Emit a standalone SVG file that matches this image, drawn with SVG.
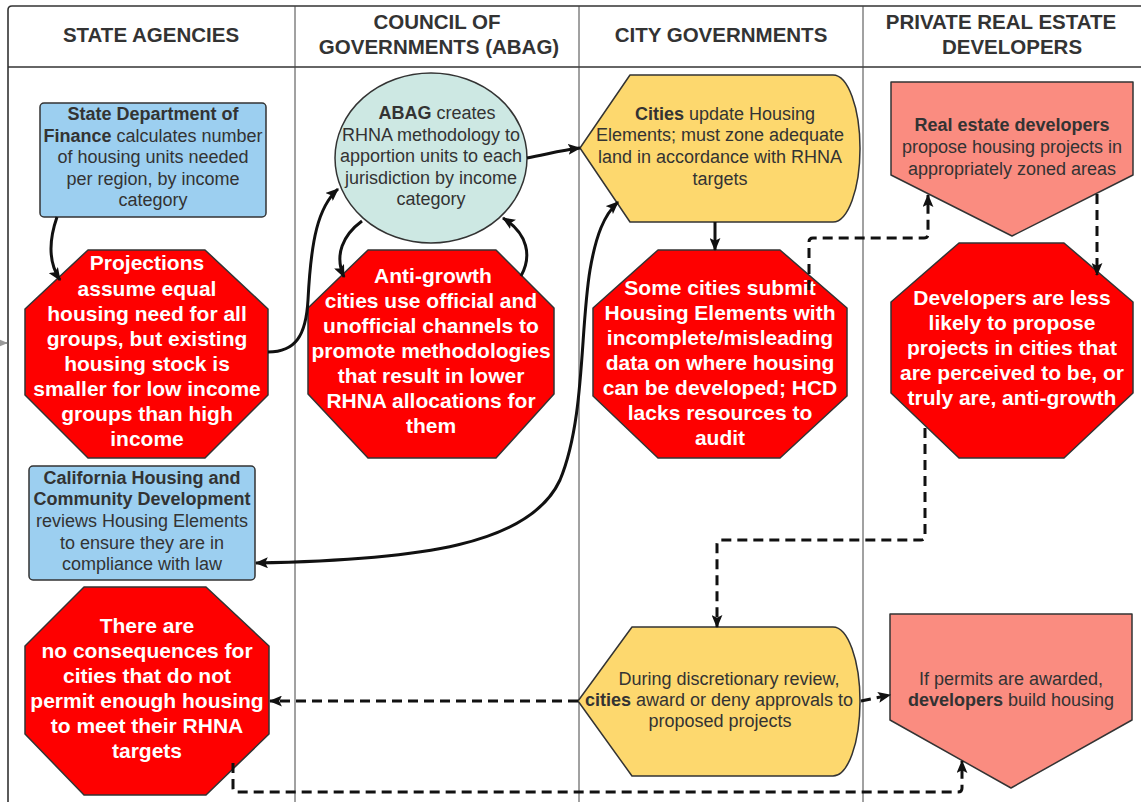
<svg xmlns="http://www.w3.org/2000/svg" width="1141" height="802" viewBox="0 0 1141 802">
  <defs>
    <style>
      .lane { font: bold 20.5px "Liberation Sans", Arial, sans-serif; fill: #333; text-anchor: middle; }
      .body { font: 18px "Liberation Sans", Arial, sans-serif; fill: #333; text-anchor: middle; }
      .warn { font: bold 21px "Liberation Sans", Arial, sans-serif; fill: #fff; text-anchor: middle; }
      .b { font-weight: bold; }
      .frame { stroke: #333; stroke-width: 1.6; fill: none; }
      .divider { stroke: #444; stroke-width: 1; fill: none; }
      .agency { fill: #9ccff0; stroke: #333; stroke-width: 1.5; }
      .council { fill: #cde8e3; stroke: #333; stroke-width: 1.5; }
      .city { fill: #fdd86e; stroke: #333; stroke-width: 1.5; stroke-linejoin: round; }
      .dev { fill: #fa8c80; stroke: #333; stroke-width: 1.5; stroke-linejoin: round; }
      .stop { fill: #fe0000; stroke: #333; stroke-width: 1.5; stroke-linejoin: round; }
      .solid { fill: none; stroke: #111; stroke-width: 3; }
      .dash { fill: none; stroke: #111; stroke-width: 3; stroke-dasharray: 10 6; }
    </style>
    <marker id="arrow" viewBox="0 0 12 10" refX="11" refY="5" markerWidth="13" markerHeight="11" markerUnits="userSpaceOnUse" orient="auto-start-reverse">
      <path d="M0,0 L12,5 L0,10 L2.5,5 Z" fill="#111"/>
    </marker>
    <marker id="arrowGrey" viewBox="0 0 12 10" refX="11" refY="5" markerWidth="10" markerHeight="9" markerUnits="userSpaceOnUse" orient="auto">
      <path d="M0,0 L12,5 L0,10 L2.5,5 Z" fill="#999"/>
    </marker>
  </defs>

  <rect width="1141" height="802" fill="#fff"/>

  <!-- swimlane table -->
  <g id="lanes">
    <path class="frame" d="M8,802 L8,10 Q8,6 12,6 L1141,6"/>
    <line class="frame" x1="8" y1="67" x2="1141" y2="67"/>
    <line class="divider" x1="295" y1="6" x2="295" y2="802"/>
    <line class="divider" x1="579" y1="6" x2="579" y2="802"/>
    <line class="divider" x1="863" y1="6" x2="863" y2="802"/>
    <text class="lane" x="151" y="42">STATE AGENCIES</text>
    <text class="lane" x="437" y="29">COUNCIL OF</text>
    <text class="lane" x="439" y="54">GOVERNMENTS (ABAG)</text>
    <text class="lane" x="721" y="42">CITY GOVERNMENTS</text>
    <text class="lane" x="1001" y="29">PRIVATE REAL ESTATE</text>
    <text class="lane" x="1012" y="54">DEVELOPERS</text>
  </g>

  <!-- state agencies -->
  <g id="dof">
    <rect class="agency" x="40" y="103" width="226" height="114" rx="4"/>
    <text class="body" x="153" y="120"><tspan class="b">State Department of</tspan></text>
    <text class="body" x="153" y="141.5"><tspan class="b">Finance</tspan> calculates number</text>
    <text class="body" x="153" y="163">of housing units needed</text>
    <text class="body" x="153" y="184.5">per region, by income</text>
    <text class="body" x="153" y="206">category</text>
  </g>

  <g id="projections">
    <polygon class="stop" points="88,250 205,250 268,309 268,395 205,458 88,458 25,395 25,309"/>
    <text class="warn" x="147" y="270">Projections</text>
    <text class="warn" x="147" y="296">assume equal</text>
    <text class="warn" x="147" y="321">housing need for all</text>
    <text class="warn" x="147" y="346">groups, but existing</text>
    <text class="warn" x="147" y="371">housing stock is</text>
    <text class="warn" x="147" y="396">smaller for low income</text>
    <text class="warn" x="147" y="421">groups than high</text>
    <text class="warn" x="147" y="446">income</text>
  </g>

  <g id="hcd">
    <rect class="agency" x="29" y="466" width="226" height="114" rx="4"/>
    <text class="body" x="142" y="484"><tspan class="b">California Housing and</tspan></text>
    <text class="body" x="142" y="505"><tspan class="b">Community Development</tspan></text>
    <text class="body" x="142" y="527">reviews Housing Elements</text>
    <text class="body" x="142" y="549">to ensure they are in</text>
    <text class="body" x="142" y="570">compliance with law</text>
  </g>

  <g id="consequences">
    <polygon class="stop" points="84,587 206,587 269,646 269,734 206,795 84,795 25,734 25,646"/>
    <text class="warn" x="147" y="633">There are</text>
    <text class="warn" x="147" y="658">no consequences for</text>
    <text class="warn" x="147" y="683">cities that do not</text>
    <text class="warn" x="147" y="708">permit enough housing</text>
    <text class="warn" x="147" y="733">to meet their RHNA</text>
    <text class="warn" x="147" y="758">targets</text>
  </g>

  <!-- council of governments -->
  <g id="abag">
    <ellipse class="council" cx="431" cy="158" rx="96" ry="85"/>
    <text class="body" x="437" y="119"><tspan class="b">ABAG</tspan> creates</text>
    <text class="body" x="431" y="141">RHNA methodology to</text>
    <text class="body" x="431" y="162">apportion units to each</text>
    <text class="body" x="431" y="184">jurisdiction by income</text>
    <text class="body" x="431" y="205">category</text>
  </g>

  <g id="anti-growth">
    <polygon class="stop" points="368,250 496,250 554,308 554,394 496,458 368,458 308,394 308,308"/>
    <text class="warn" x="433" y="283">Anti-growth</text>
    <text class="warn" x="431" y="308">cities use official and</text>
    <text class="warn" x="431" y="333">unofficial channels to</text>
    <text class="warn" x="431" y="358">promote methodologies</text>
    <text class="warn" x="431" y="383">that result in lower</text>
    <text class="warn" x="431" y="408">RHNA allocations for</text>
    <text class="warn" x="431" y="433">them</text>
  </g>

  <!-- city governments -->
  <g id="update">
    <path class="city" d="M580,148 L630,75 L833,75 A27,73.5 0 0 1 833,222 L630,222 Z"/>
    <text class="body" x="725" y="120"><tspan class="b">Cities</tspan> update Housing</text>
    <text class="body" x="720" y="141">Elements; must zone adequate</text>
    <text class="body" x="720" y="163">land in accordance with RHNA</text>
    <text class="body" x="720" y="185">targets</text>
  </g>

  <g id="submit">
    <polygon class="stop" points="658,250 780,250 847,308 847,396 780,458 658,458 593,396 593,308"/>
    <text class="warn" x="720" y="295">Some cities submit</text>
    <text class="warn" x="720" y="320">Housing Elements with</text>
    <text class="warn" x="720" y="345">incomplete/misleading</text>
    <text class="warn" x="720" y="370">data on where housing</text>
    <text class="warn" x="720" y="395">can be developed; HCD</text>
    <text class="warn" x="720" y="420">lacks resources to</text>
    <text class="warn" x="720" y="445">audit</text>
  </g>

  <g id="review">
    <path class="city" d="M578,701 L632,627 L833,627 A27,74.5 0 0 1 833,776 L632,776 Z"/>
    <text class="body" x="729" y="685">During discretionary review,</text>
    <text class="body" x="719" y="706"><tspan class="b">cities</tspan> award or deny approvals to</text>
    <text class="body" x="720" y="727">proposed projects</text>
  </g>

  <!-- private real estate developers -->
  <g id="propose">
    <polygon class="dev" points="891,82 1133,82 1133,175 1012,236 891,175"/>
    <text class="body" x="1012" y="131"><tspan class="b">Real estate developers</tspan></text>
    <text class="body" x="1012" y="153">propose housing projects in</text>
    <text class="body" x="1012" y="175">appropriately zoned areas</text>
  </g>

  <g id="less-likely">
    <polygon class="stop" points="959,243 1064,243 1133,302 1133,393 1064,458 959,458 891,393 891,302"/>
    <text class="warn" x="1012" y="305">Developers are less</text>
    <text class="warn" x="1012" y="330">likely to propose</text>
    <text class="warn" x="1012" y="355">projects in cities that</text>
    <text class="warn" x="1012" y="380">are perceived to be, or</text>
    <text class="warn" x="1012" y="405">truly are, anti-growth</text>
  </g>

  <g id="build">
    <polygon class="dev" points="890,614 1132,614 1132,720 1011,788 890,720"/>
    <text class="body" x="1011" y="685">If permits are awarded,</text>
    <text class="body" x="1011" y="706"><tspan class="b">developers</tspan> build housing</text>
  </g>

  <!-- connectors -->
  <g id="connectors">
    <path class="solid" d="M57,217 C49,240 48,262 60,280" marker-end="url(#arrow)"/>
    <path class="solid" d="M268,352 C296,352 306,335 308,300 C311,240 318,207 338,189" marker-end="url(#arrow)"/>
    <path class="solid" d="M362,221 C343,235 334,255 344,277" marker-end="url(#arrow)"/>
    <path class="solid" d="M521,276 C532,256 528,234 503,218" marker-end="url(#arrow)"/>
    <path class="solid" d="M527,158 C548,154 562,150 580,148" marker-end="url(#arrow)"/>
    <path class="solid" d="M715,222 L715,250" marker-end="url(#arrow)"/>
    <path class="solid" d="M256,563 C420,560 530,545 560,480 C585,420 580,330 590,270 C596,235 604,215 618,202" marker-start="url(#arrow)" marker-end="url(#arrow)"/>

    <path class="dash" d="M809,290 L809,242 Q809,238 813,238 L924,238 Q928,238 928,234 L928,195" marker-end="url(#arrow)"/>
    <path class="dash" d="M1097,194 L1097,275" marker-end="url(#arrow)"/>
    <path class="dash" d="M925,428 L925,536 Q925,540 921,540 L721,540 Q717,540 717,544 L717,627" marker-end="url(#arrow)"/>
    <path class="dash" d="M578,701 L270,701" marker-end="url(#arrow)"/>
    <path class="dash" d="M861,701 L890,695" marker-end="url(#arrow)"/>
    <path class="dash" d="M233,763 L233,788 Q233,792 237,792 L958,792 Q962,792 962,788 L962,761" marker-end="url(#arrow)"/>

    <path d="M0,343 L7,343" stroke="#999" stroke-width="2" marker-end="url(#arrowGrey)"/>
  </g>
</svg>
